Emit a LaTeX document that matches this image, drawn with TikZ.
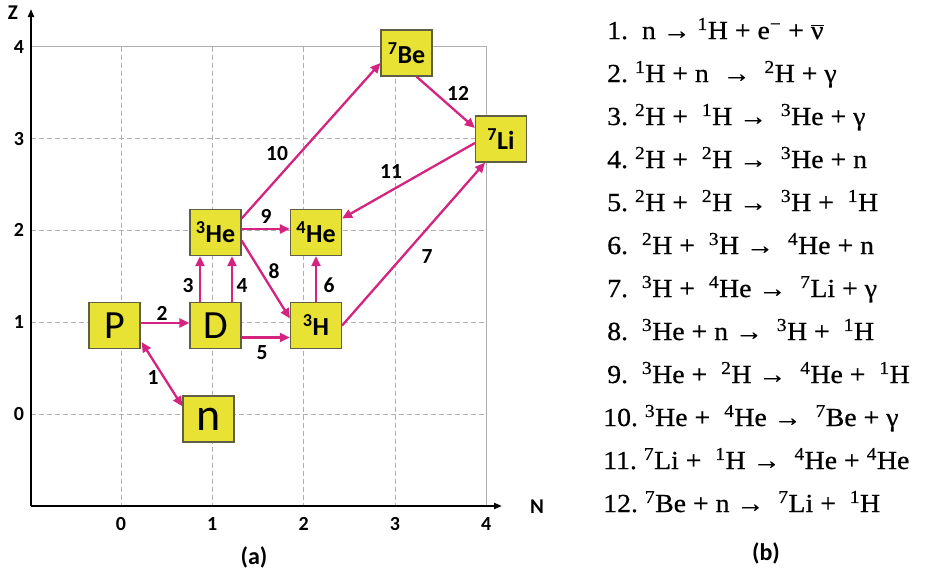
\documentclass[tikz,border=0pt]{standalone}
\usepackage{fontspec}
\setmainfont{Carlito}
\newfontfamily\eqfont[FakeStretch=1.07,FakeBold=0.6]{Liberation Serif}
\usetikzlibrary{arrows.meta,calc}
\definecolor{boxy}{RGB}{232,226,52}
\definecolor{boxb}{RGB}{95,95,70}
\definecolor{mag}{RGB}{213,36,128}
\definecolor{gridc}{RGB}{175,175,175}
\newcommand{\iso}[2]{\textsuperscript{#1}#2}
\tikzset{
 nuc/.style={draw=boxb, fill=boxy, line width=1.2pt, minimum width=51pt, minimum height=46pt, inner sep=0pt},
 big/.style={font=\fontsize{40}{40}\selectfont},
 isot/.style={font=\fontsize{26}{26}\selectfont\bfseries},
 rx/.style={draw=mag, line width=2.3pt, -{Triangle[length=10pt,width=9pt]}},
 rlab/.style={font=\fontsize{21.5}{21.5}\selectfont\bfseries, inner sep=0pt},
 tick/.style={font=\fontsize{20}{20}\selectfont\bfseries, inner sep=0pt},
 eq/.style={font=\eqfont\fontsize{26}{26}\selectfont, anchor=base west, inner sep=0pt},
 gridline/.style={draw=gridc, line width=1pt, dash pattern=on 5pt off 3pt},
 solidgrid/.style={draw=gridc, line width=1pt},
 axis/.style={draw=black, line width=2.4pt, -{Triangle[length=8pt,width=6pt]}},
}
\begin{document}
\begin{tikzpicture}[x=1pt,y=-1pt]
\useasboundingbox (0,0) rectangle (926,579);
% grid
\foreach \z/\yy in {0/414,1/322.2,2/230.4,3/138.6}{
  \draw[gridline] (31,\yy) -- (486.3,\yy);
  \node[tick] (zl\z) at (19,\yy) {\z};
}
\node[tick] (zl4) at (19,46.8) {4};
\foreach \n/\xx in {0/121,1/212.3,2/303.7,3/395}{
  \draw[gridline] (\xx,46.8) -- (\xx,506);
  \node[tick] (nl\n) at (\xx,524) {\n};
}
\node[tick] (nl4) at (486.3,524) {4};
\draw[solidgrid] (31,46.8) -- (486.3,46.8) -- (486.3,506);
% axes
\coordinate (orig) at (31,506);
\coordinate (ztop) at (31,9);
\coordinate (nend) at (502,506);
\draw[axis] (orig) -- (ztop);
\draw[axis] (orig) -- (nend);
\node[font=\fontsize{21}{21}\selectfont\bfseries] (zax) at (13,13) {Z};
\node[font=\fontsize{21}{21}\selectfont\bfseries] (nax) at (537,507) {N};
% boxes
\node[nuc,big] (P) at (114.5,325.5) {P};
\node[nuc,big] (D) at (215.5,325.5) {D};
\node[nuc,font=\fontsize{46}{46}\selectfont] (n) at (208.5,419) {n};
\node[nuc,isot] (He3) at (215.5,232.5) {\iso{3}{He}};
\node[nuc,isot] (He4) at (316,232.5) {\iso{4}{He}};
\node[nuc,isot] (H3) at (316,325.5) {\iso{3}{H}};
\node[nuc,isot] (Be7) at (406.5,53) {\iso{7}{Be}};
\node[nuc,isot] (Li7) at (501,139) {\iso{7}{Li}};
% reactions
\draw[rx,{Triangle[length=10pt,width=9pt]}-{Triangle[length=10pt,width=9pt]}] ($(P.south east)+(1,-7)$) -- ($(n.north west)+(0,11)$);
\draw[rx] ($(P.east)+(0,-2.5)$) -- ($(D.west)+(0,-2.5)$);
\draw[rx] ($(D.north)+(-15.5,0)$) -- ($(He3.south)+(-15.5,0)$);
\draw[rx] ($(D.north)+(16.5,0)$) -- ($(He3.south)+(16.5,0)$);
\draw[rx] ($(D.east)+(0,12)$) -- ($(H3.west)+(0,12)$);
\draw[rx] (H3.north) -- (He4.south);
\draw[rx] (H3.east) -- ($(Li7.south)+(-16,0)$);
\draw[rx] ($(He3.east)+(0,8)$) -- ($(H3.west)+(0,-7)$);
\draw[rx] ($(He3.east)+(0,-3.5)$) -- ($(He4.west)+(0,-3.5)$);
\draw[rx] ($(He3.east)+(0,-14)$) -- ($(Be7.west)+(0,10)$);
\draw[rx] ($(Li7.west)+(0,4)$) -- ($(He4.east)+(0,-14)$);
\draw[rx] ($(Be7.south)+(10,0)$) -- ($(Li7.west)+(0,-11)$);
% reaction labels
\node[rlab] (l1) at (153,378) {1};
\node[rlab] (l2) at (162,313) {2};
\node[rlab] (l3) at (188,286) {3};
\node[rlab] (l4) at (242,286) {4};
\node[rlab] (l5) at (262,353) {5};
\node[rlab] (l6) at (329,285) {6};
\node[rlab] (l7) at (427,257) {7};
\node[rlab] (l8) at (274,271) {8};
\node[rlab] (l9) at (266,216) {9};
\node[rlab] (l10) at (277,154) {10};
\node[rlab] (l11) at (391,172) {11};
\node[rlab] (l12) at (458,93) {12};
% panel captions
\node[font=\fontsize{24}{24}\selectfont\bfseries] (capa) at (254,557) {(a)};
\node[font=\fontsize{24}{24}\selectfont\bfseries] (capb) at (766,553) {(b)};
% equations
\node[eq] (e1) at (607,39) {1.\ \ n →\ \iso{1}{H} + e\textsuperscript{−} + $\overline{\hbox{ν}}$};
\node[eq] (e2) at (607,82) {2.\ \iso{1}{H} + n\ \ →\ \ \iso{2}{H} + γ};
\node[eq] (e3) at (607,125) {3.\ \iso{2}{H} +\ \ \iso{1}{H} →\ \ \iso{3}{He} + γ};
\node[eq] (e4) at (607,168) {4.\ \iso{2}{H} +\ \ \iso{2}{H} →\ \ \iso{3}{He} + n};
\node[eq] (e5) at (607,211) {5.\ \iso{2}{H} +\ \ \iso{2}{H} →\ \ \iso{3}{H} +\ \ \iso{1}{H}};
\node[eq] (e6) at (607,254) {6.\ \ \iso{2}{H} +\ \ \iso{3}{H} →\ \ \iso{4}{He} + n};
\node[eq] (e7) at (607,297) {7.\ \ \iso{3}{H} +\ \ \iso{4}{He} →\ \ \iso{7}{Li} + γ};
\node[eq] (e8) at (607,340) {8.\ \ \iso{3}{He} + n →\ \ \iso{3}{H} +\ \ \iso{1}{H}};
\node[eq] (e9) at (607,383) {9.\ \ \iso{3}{He} +\ \ \iso{2}{H} →\ \ \iso{4}{He} +\ \ \iso{1}{H}};
\node[eq] (e10) at (603,426) {10.\ \iso{3}{He} +\ \ \iso{4}{He} →\ \ \iso{7}{Be} + γ};
\node[eq] (e11) at (603,469) {11.\ \iso{7}{Li} +\ \ \iso{1}{H} →\ \ \iso{4}{He} +\ \iso{4}{He}};
\node[eq] (e12) at (603,512) {12.\ \iso{7}{Be} + n →\ \ \iso{7}{Li} +\ \ \iso{1}{H}};
\end{tikzpicture}
\end{document}
